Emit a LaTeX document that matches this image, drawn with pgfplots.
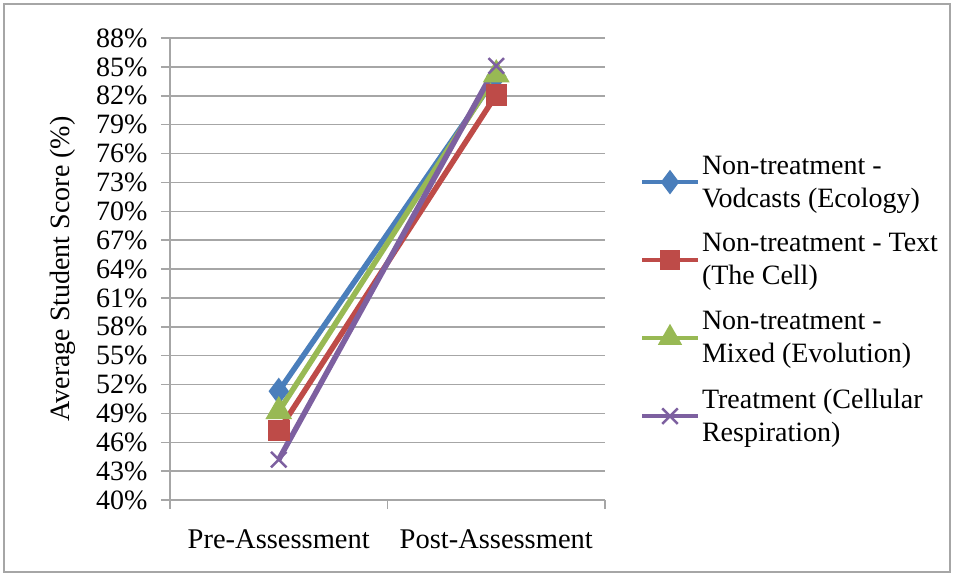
\documentclass[border=0pt]{standalone}
\usepackage{pgfplots}
\pgfplotsset{compat=1.18}
\usepackage{fontspec}
\setmainfont{Liberation Serif}
\definecolor{cblue}{HTML}{4A7EBB}
\definecolor{cred}{HTML}{BE4B48}
\definecolor{cgreen}{HTML}{98B954}
\definecolor{cpurple}{HTML}{7D60A0}
\definecolor{gridgray}{HTML}{A6A6A6}
\begin{document}
\begin{tikzpicture}[x=1pt,y=1pt]
\useasboundingbox (0,0) rectangle (956,-577);
\draw[gridgray,line width=1.5pt] (4,-4) rectangle (950,-572);
\begin{axis}[
  at={(170pt,-500pt)}, anchor=south west,
  scale only axis, width=435pt, height=462pt,
  font=\fontsize{28.5}{33}\selectfont,
  xmin=-0.5, xmax=1.5, ymin=40, ymax=88,
  axis x line*=bottom, axis y line*=left,
  axis line style={gridgray, line width=1.5pt},
  x axis line style={-}, y axis line style={-},
  xtick={-0.5,0.5,1.5}, xticklabels={},
  extra x ticks={0,1}, extra x tick labels={Pre-Assessment,Post-Assessment},
  extra x tick style={major tick length=0pt, xticklabel style={yshift=-26pt}},
  ytick={40,43,...,88},
  yticklabel={\pgfmathprintnumber{\tick}\%},
  /pgf/number format/assume math mode=true,
  yticklabel style={xshift=-10pt, font=\fontsize{28}{30}\selectfont},
  tick style={gridgray, line width=1.5pt},
  major tick length=9pt,
  tick align=outside,
  ymajorgrids, grid style={gridgray, line width=1.5pt},
  ylabel={Average Student Score (\%)},
  ylabel style={yshift=14pt, font=\fontsize{28}{30}\selectfont},
  legend style={at={(1.08,0.75)}, anchor=north west, draw=none, fill=none,
    font=\fontsize{28}{33}\selectfont, row sep=21pt, cells={align=left, anchor=west},
    inner sep=0pt},
  legend image code/.code={\draw[mark repeat=2,mark phase=2, line width=4pt] plot coordinates {(0pt,0pt) (28pt,0pt) (56pt,0pt)};},
  every axis plot/.append style={line width=5.5pt},
]
\addplot[cblue, mark=diamond*, mark size=9pt, mark options={solid}] coordinates {(0,51.3) (1,84)};
\addlegendentry{Non-treatment -\\Vodcasts (Ecology)}
\addplot[cred, mark=square*, mark size=8pt] coordinates {(0,47.2) (1,82.1)};
\addlegendentry{Non-treatment - Text\\(The Cell)}
\addplot[cgreen, mark=triangle*, mark size=10pt] coordinates {(0,49.2) (1,84.2)};
\addlegendentry{Non-treatment -\\Mixed (Evolution)}
\addplot[cpurple, mark=x, mark size=11pt, mark options={line width=2.5pt}] coordinates {(0,44.2) (1,85.1)};
\addlegendentry{Treatment (Cellular\\Respiration)}
\end{axis}
\end{tikzpicture}
\end{document}
